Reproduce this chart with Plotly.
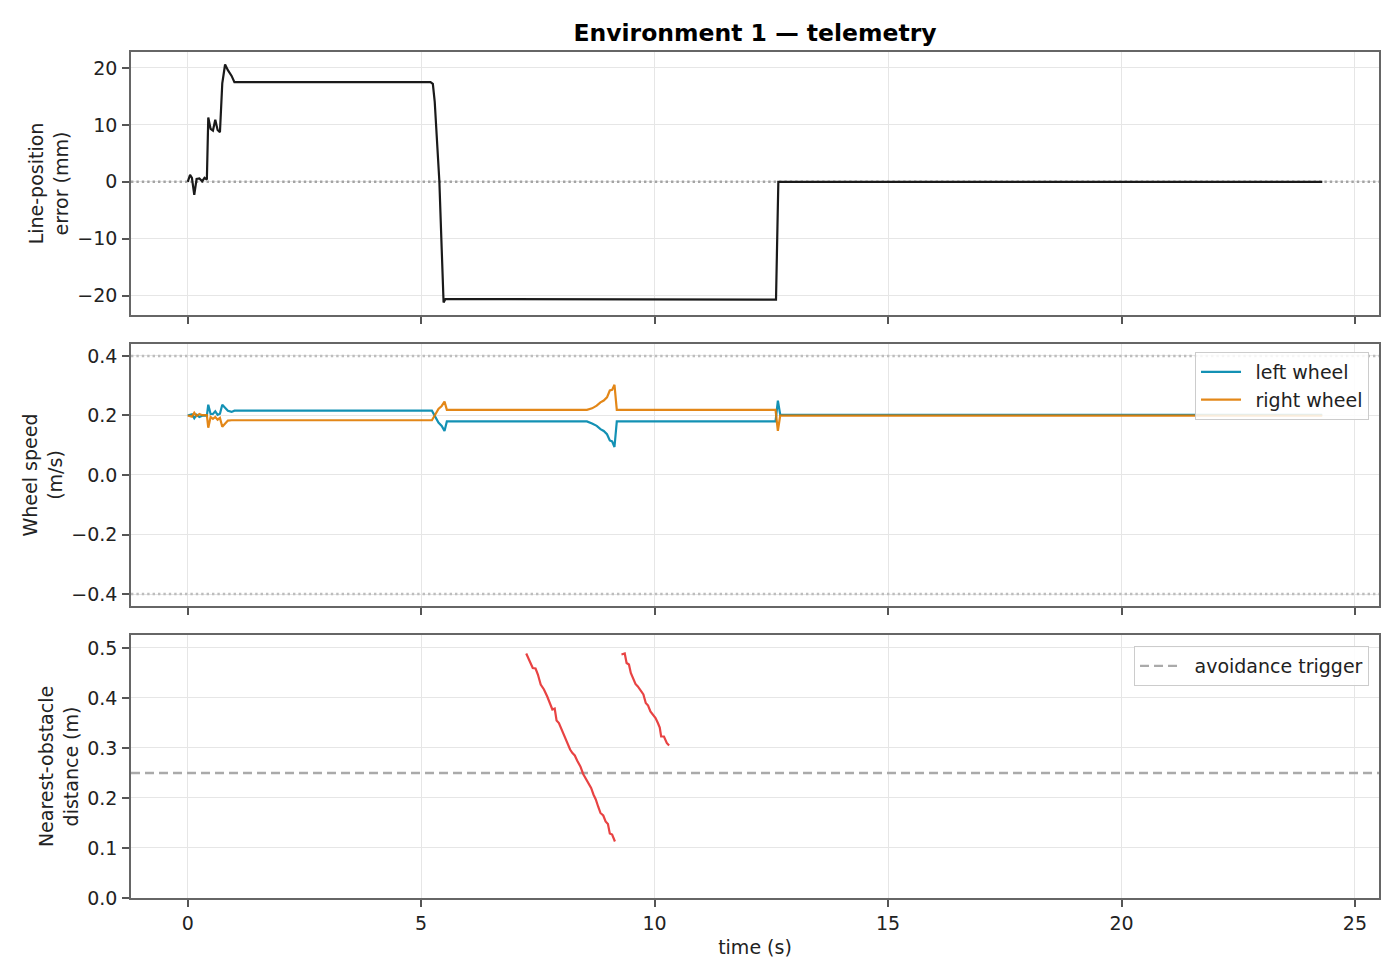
import plotly.graph_objects as go
from plotly.subplots import make_subplots

# ---------------- data ----------------
err_t = [0, 0.05, 0.09, 0.14, 0.19, 0.25, 0.31, 0.36, 0.41, 0.44, 0.49, 0.54, 0.59, 0.64,
         0.69, 0.74, 0.80, 0.86, 0.94, 1.00, 5.20, 5.25, 5.29, 5.34, 5.39, 5.44, 5.48, 5.52,
         12.60, 12.65, 24.30]
err_mm = [0, 1.2, 0.7, -2.3, 0.5, 0.6, 0.1, 0.7, 0.4, 11.3, 9.3, 9.0, 10.9, 9.1,
          8.7, 17.3, 20.6, 19.6, 18.6, 17.5, 17.5, 17.2, 14.1, 6.8, 0.0, -11.9, -21.2, -20.6,
          -20.7, 0.0, 0.0]

wheel_t = [0, 0.05, 0.09, 0.14, 0.19, 0.25, 0.31, 0.36, 0.41, 0.44, 0.49, 0.54, 0.59, 0.64,
           0.69, 0.74, 0.80, 0.86, 0.94, 1.00, 5.23, 5.29, 5.37, 5.44, 5.50, 5.55,
           8.55, 8.66, 8.76, 8.84, 8.91, 8.98, 9.04, 9.09, 9.14, 9.19,
           12.59, 12.64, 12.69, 24.30]
left_wheel = [0.200, 0.202, 0.204, 0.191, 0.202, 0.195, 0.199, 0.199, 0.199, 0.236, 0.205, 0.205, 0.214, 0.202,
              0.206, 0.236, 0.227, 0.216, 0.212, 0.216, 0.216, 0.200, 0.176, 0.165, 0.148, 0.180,
              0.180, 0.173, 0.165, 0.154, 0.148, 0.137, 0.116, 0.113, 0.094, 0.180,
              0.180, 0.250, 0.2025, 0.2025]
right_wheel = [0.200, 0.198, 0.196, 0.209, 0.198, 0.205, 0.201, 0.201, 0.201, 0.159, 0.195, 0.189, 0.195, 0.186,
               0.192, 0.162, 0.173, 0.183, 0.184, 0.184, 0.184, 0.200, 0.222, 0.232, 0.247, 0.219,
               0.219, 0.224, 0.233, 0.244, 0.250, 0.261, 0.284, 0.286, 0.303, 0.219,
               0.219, 0.148, 0.1995, 0.1995]

obs_t1 = [7.25, 7.33, 7.39, 7.45, 7.50, 7.56, 7.63, 7.70, 7.76, 7.81, 7.86, 7.90, 7.95, 8.01,
          8.07, 8.13, 8.19, 8.24, 8.29, 8.34, 8.41, 8.47, 8.52, 8.59, 8.64, 8.69, 8.74, 8.79,
          8.84, 8.90, 8.95, 9.00, 9.04, 9.09, 9.15]
obs_d1 = [0.489, 0.473, 0.460, 0.459, 0.447, 0.427, 0.417, 0.403, 0.387, 0.377, 0.379, 0.355, 0.350, 0.337,
          0.321, 0.310, 0.297, 0.290, 0.285, 0.275, 0.263, 0.248, 0.240, 0.230, 0.220, 0.207, 0.197, 0.183,
          0.170, 0.165, 0.153, 0.148, 0.129, 0.127, 0.113]
obs_t2 = [9.29, 9.36, 9.40, 9.45, 9.49, 9.54, 9.59, 9.64, 9.70, 9.76, 9.81, 9.86, 9.91, 9.97,
          10.02, 10.07, 10.11, 10.14, 10.20, 10.26, 10.31]
obs_d2 = [0.487, 0.489, 0.470, 0.467, 0.450, 0.440, 0.428, 0.423, 0.415, 0.407, 0.390, 0.385, 0.373, 0.367,
          0.360, 0.350, 0.341, 0.323, 0.323, 0.310, 0.305]

avoid_trigger = 0.25
speed_limit = 0.4
err_zero = 0.0

x_ticks = [0, 5, 10, 15, 20, 25]
err_ticks = [-20, -10, 0, 10, 20]
speed_ticks = [-0.4, -0.2, 0.0, 0.2, 0.4]
dist_ticks = [0.0, 0.1, 0.2, 0.3, 0.4, 0.5]

# axis extents
x_range = [-1.215, 25.515]
err_range = [-23.4, 22.8]
speed_range = [-0.44, 0.44]
dist_range = [0, 0.526]

# ---------------- style ----------------
FONT = "DejaVu Sans"
TXT = "#222222"
BLUE = "#1391b4"
ORANGE = "#e07b00"
RED = "#e84343"
BLACK = "#1a1a1a"
DOT = "2.4px,3px"
DASH = "9px,5px"
LW = 2.2
SP = "\u2002"  # en space between legend sample and text

fig = make_subplots(rows=3, cols=1, shared_xaxes=True)

# reference lines (drawn first so data sits on top)
fig.add_trace(go.Scatter(x=x_range, y=[err_zero, err_zero], mode="lines", hoverinfo="skip",
                         line=dict(color="#a4a4a4", width=2.4, dash=DOT), showlegend=False), row=1, col=1)
for v in (speed_limit, -speed_limit):
    fig.add_trace(go.Scatter(x=x_range, y=[v, v], mode="lines", hoverinfo="skip",
                             line=dict(color="#bdbdbd", width=2.4, dash=DOT), showlegend=False), row=2, col=1)
fig.add_trace(go.Scatter(x=x_range, y=[avoid_trigger, avoid_trigger], mode="lines",
                         name=SP + "avoidance trigger",
                         line=dict(color="#aaaaaa", width=2.4, dash=DASH), legend="legend2"), row=3, col=1)

# data
fig.add_trace(go.Scatter(x=err_t, y=err_mm, mode="lines", line=dict(color=BLACK, width=LW),
                         showlegend=False), row=1, col=1)
fig.add_trace(go.Scatter(x=wheel_t, y=left_wheel, mode="lines", name=SP + "left wheel",
                         line=dict(color=BLUE, width=LW), legend="legend"), row=2, col=1)
fig.add_trace(go.Scatter(x=wheel_t, y=right_wheel, mode="lines", name=SP + "right wheel",
                         line=dict(color=ORANGE, width=LW), opacity=0.9, legend="legend"), row=2, col=1)
fig.add_trace(go.Scatter(x=obs_t1, y=obs_d1, mode="lines", line=dict(color=RED, width=LW),
                         showlegend=False), row=3, col=1)
fig.add_trace(go.Scatter(x=obs_t2, y=obs_d2, mode="lines", line=dict(color=RED, width=LW),
                         showlegend=False), row=3, col=1)

axis_common = dict(showline=True, linecolor="#666666", linewidth=1.5, mirror=True,
                   showgrid=True, gridcolor="#e6e6e6", gridwidth=1.1, zeroline=False,
                   ticks="outside", ticklen=7, tickwidth=1.5, tickcolor="#555555",
                   tickfont=dict(family=FONT, size=19, color=TXT), automargin=False)

domains = {1: [0.6891, 1.0], 2: [0.3452, 0.6548], 3: [0.0, 0.3109]}
for r in (1, 2, 3):
    fig.update_xaxes(row=r, col=1, range=x_range, tickvals=x_ticks, **axis_common)
    fig.update_yaxes(row=r, col=1, domain=domains[r], ticklabelstandoff=1, **axis_common)

title_font = dict(family=FONT, size=19, color=TXT)
fig.update_xaxes(row=3, col=1, showticklabels=True,
                 title=dict(text="time (s)", font=title_font, standoff=8))
fig.update_yaxes(row=1, col=1, range=err_range, tickvals=err_ticks,
                 title=dict(text="Line-position<br>error (mm)", font=title_font, standoff=4))
fig.update_yaxes(row=2, col=1, range=speed_range, tickvals=speed_ticks, tickformat=".1f",
                 title=dict(text="Wheel speed<br>(m/s)", font=title_font, standoff=4))
fig.update_yaxes(row=3, col=1, range=dist_range, tickvals=dist_ticks, tickformat=".1f",
                 title=dict(text="Nearest-obstacle<br>distance (m)", font=title_font, standoff=4))

legend_style = dict(bgcolor="rgba(255,255,255,0.85)", bordercolor="#cccccc", borderwidth=1,
                    font=dict(family=FONT, size=19, color=TXT), xanchor="right", yanchor="top",
                    xref="paper", yref="paper", itemwidth=40)

# page body has an 8px margin: figure is 1384x964 so the plot lands where the reference does
W, H = 1384, 964
fig.update_layout(
    width=W, height=H,
    paper_bgcolor="white", plot_bgcolor="white",
    margin=dict(l=123, r=13, t=44, b=74),
    font=dict(family=FONT, size=19, color=TXT),
    title=dict(text="<b>Environment 1 — telemetry</b>", x=747 / W, xanchor="center",
               y=1 - 25 / H, yanchor="middle", yref="container",
               font=dict(family=FONT, size=23.5, color="#000000")),
    legend=dict(x=0.992, y=0.6454, **legend_style),
    legend2=dict(x=0.992, y=0.2979, **legend_style),
)

fig.write_html("out.html")
